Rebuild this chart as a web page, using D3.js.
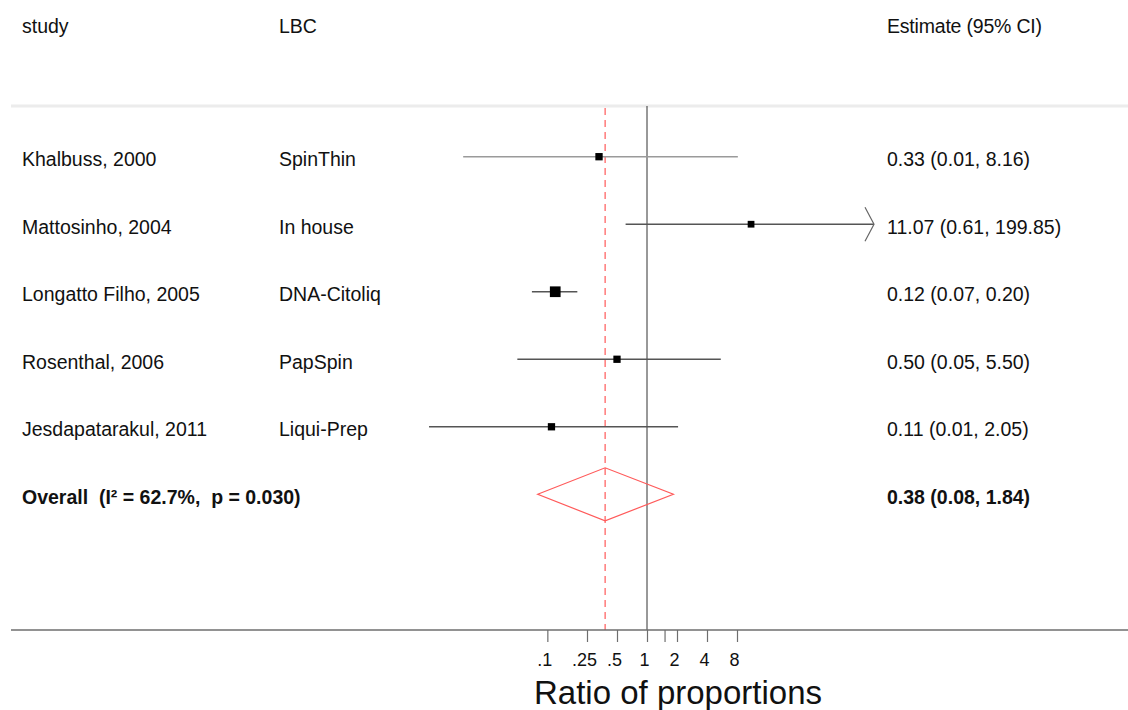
<!DOCTYPE html>
<html>
<head>
<meta charset="utf-8">
<script src="https://cdn.jsdelivr.net/npm/d3@7"></script>
<style>
html, body { margin: 0; padding: 0; background: #fff; }
svg { display: block; }
text { font-family: "Liberation Sans", Arial, sans-serif; fill: #111; white-space: pre; }
</style>
</head>
<body>
<svg id="chart" width="1128" height="710"></svg>
<script>
// ---- data ----
const studies = ["Khalbuss, 2000", "Mattosinho, 2004", "Longatto Filho, 2005", "Rosenthal, 2006", "Jesdapatarakul, 2011"];
const lbc = ["SpinThin", "In house", "DNA-Citoliq", "PapSpin", "Liqui-Prep"];
const estimates = [0.33, 11.07, 0.12, 0.50, 0.11];
const lowerCI = [0.0143, 0.61, 0.07, 0.05, 0.0065];
const upperCI = [8.16, 199.85, 0.20, 5.50, 2.05];
const weights = [16.8, 14.2, 35.8, 16.6, 16.6];
const overallLabel = "Overall  (I\u00B2 = 62.7%,  p = 0.030)";
const overallEst = 0.38, overallLo = 0.08, overallHi = 1.84;
const tickValues = [0.1, 0.25, 0.5, 1, 1.5, 2, 4, 8];
const tickLabels = [".1", ".25", ".5", "1", "", "2", "4", "8"];
const headers = ["study", "LBC", "Estimate (95% CI)"];
const axisTitle = "Ratio of proportions";

// ---- layout ----
const svg = d3.select("#chart");
const xMax = 189.6;
const x = d3.scaleLog().domain([1 / xMax, xMax]).range([420, 874]);
const rows = studies.concat(["Overall"]);
const y = d3.scalePoint().domain(rows).range([156.7, 494.3]);
const size = d3.scaleSqrt().domain([0, d3.max(weights)]).range([0, 10.7]);
const fmt = v => v.toFixed(2);
const colStudy = 22, colLbc = 279, colEst = 887;
const axisY = 630, topY = 106;
const fs = "19.5px";

// header
svg.append("text").attr("x", colStudy).attr("y", 33).style("font-size", fs).text(headers[0]);
svg.append("text").attr("x", colLbc).attr("y", 33).style("font-size", fs).text(headers[1]);
svg.append("text").attr("x", colEst).attr("y", 33).style("font-size", fs).attr("letter-spacing", "-0.2").text(headers[2]);

// separator
svg.append("line").attr("x1", 11).attr("x2", 1128).attr("y1", topY).attr("y2", topY)
  .attr("stroke", "#ececec").attr("stroke-width", 3);

// reference lines
svg.append("line").attr("x1", x(1)).attr("x2", x(1)).attr("y1", topY).attr("y2", axisY)
  .attr("stroke", "#333").attr("stroke-width", 1);
svg.append("line").attr("x1", x(overallEst)).attr("x2", x(overallEst)).attr("y1", topY + 2).attr("y2", axisY)
  .attr("stroke", "#ff5a5a").attr("stroke-width", 1.2).attr("stroke-dasharray", "7,5");

// study rows
const dy = 9.5;
studies.forEach((s, i) => {
  const yy = y(s);
  svg.append("text").attr("x", colStudy).attr("y", yy + dy).style("font-size", fs).text(s);
  svg.append("text").attr("x", colLbc).attr("y", yy + dy).style("font-size", fs).text(lbc[i]);
  svg.append("text").attr("x", colEst).attr("y", yy + dy).style("font-size", fs)
    .text(`${fmt(estimates[i])} (${fmt(lowerCI[i])}, ${fmt(upperCI[i])})`);
  const lo = Math.max(lowerCI[i], 1 / xMax), hi = Math.min(upperCI[i], xMax);
  const col = i === 0 ? "#9a9a9a" : "#555";
  svg.append("line").attr("x1", x(lo)).attr("x2", x(hi)).attr("y1", yy).attr("y2", yy)
    .attr("stroke", col).attr("stroke-width", 1.5);
  if (upperCI[i] > xMax) {
    const tx = x(xMax);
    svg.append("path").attr("d", `M${tx - 9},${yy - 17} L${tx},${yy} L${tx - 9},${yy + 17}`)
      .attr("fill", "none").attr("stroke", "#666").attr("stroke-width", 1.2);
  }
  const w = size(weights[i]);
  svg.append("rect").attr("x", x(estimates[i]) - w / 2).attr("y", yy - w / 2)
    .attr("width", w).attr("height", w).attr("fill", "#000");
});

// overall
const yo = y("Overall");
svg.append("text").attr("x", colStudy).attr("y", yo + dy).style("font-size", fs).style("font-weight", "bold").text(overallLabel);
svg.append("text").attr("x", colEst).attr("y", yo + dy).style("font-size", fs).style("font-weight", "bold")
  .text(`${fmt(overallEst)} (${fmt(overallLo)}, ${fmt(overallHi)})`);
const dh = 26.5;
svg.append("path")
  .attr("d", `M${x(overallLo)},${yo} L${x(overallEst)},${yo - dh} L${x(overallHi)},${yo} L${x(overallEst)},${yo + dh} Z`)
  .attr("fill", "none").attr("stroke", "#ff5a5a").attr("stroke-width", 1.2);

// axis
svg.append("line").attr("x1", 11).attr("x2", 1128).attr("y1", axisY).attr("y2", axisY)
  .attr("stroke", "#6e6e6e").attr("stroke-width", 1.6);
const axis = d3.axisBottom(x).tickValues(tickValues)
  .tickFormat((d, i) => tickLabels[i]).tickSize(12).tickPadding(11);
const ag = svg.append("g").attr("transform", `translate(0,${axisY})`).call(axis);
ag.select(".domain").remove();
ag.selectAll(".tick line").attr("stroke", "#6e6e6e").attr("stroke-width", 1.2);
ag.selectAll(".tick text").style("font-size", "18px").attr("dx", -3)
  .style("font-family", "'Liberation Sans', Arial, sans-serif").attr("fill", "#111");

svg.append("text").attr("x", 678).attr("y", 704).attr("text-anchor", "middle")
  .style("font-size", "33px").text(axisTitle);
</script>
</body>
</html>
